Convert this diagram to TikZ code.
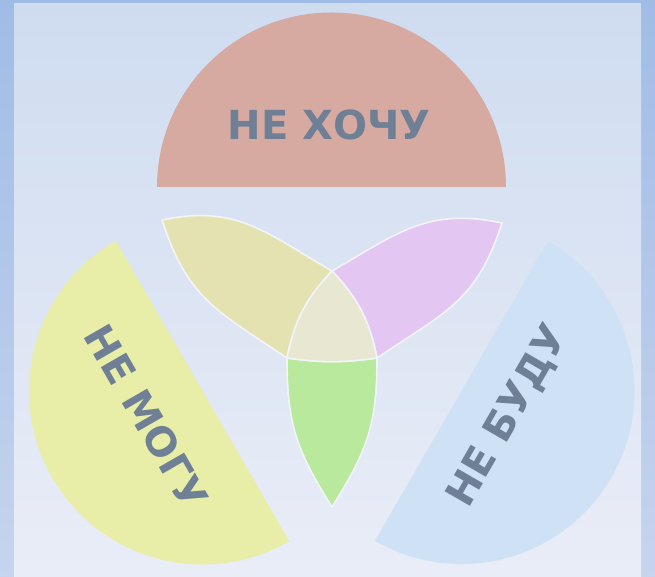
\documentclass[tikz,border=0pt]{standalone}
\usepackage{fontspec}
\newfontfamily\lblfont{DejaVu Sans}
\definecolor{frameTop}{HTML}{A0BCE6}
\definecolor{frameBot}{HTML}{C6D4EE}
\definecolor{panelTop}{HTML}{CFDCF0}
\definecolor{panelBot}{HTML}{E9EDF7}
\definecolor{salmon}{HTML}{D6A9A1}
\definecolor{leftY}{HTML}{E8EDA8}
\definecolor{rightB}{HTML}{CEE1F5}
\definecolor{lensY}{HTML}{E5E2B2}
\definecolor{lensP}{HTML}{E3C7F2}
\definecolor{lensG}{HTML}{B9E99D}
\definecolor{centerC}{HTML}{E7E7D2}
\definecolor{txtc}{HTML}{6F7F95}
\definecolor{sepc}{HTML}{F2F4F8}
\begin{document}
\begin{tikzpicture}[x=1pt,y=1pt,
  lbl/.style={font=\lblfont\bfseries\fontsize{40}{48}\selectfont, text=txtc, inner sep=0pt, text depth=0pt},
  petal/.style={draw=sepc, line width=1.6pt, line join=round}]
\useasboundingbox (0,0) rectangle (655,577);
% background frame and panel
\fill[top color=frameTop, bottom color=frameBot] (0,0) rectangle (655,577);
\fill[top color=panelTop, bottom color=panelBot] (14,0) rectangle (641,573);
% three half disks
\fill[salmon] (157,390) arc[start angle=180,end angle=0,radius=174.5] -- cycle;
\fill[leftY] (202.5,186) ++(120:173.5) arc[start angle=120,end angle=300,radius=173.5] -- cycle;
\fill[rightB] (461.5,186) ++(60:173) arc[start angle=60,end angle=-120,radius=173] -- cycle;
% labels
\node[lbl] (want) at (329,452.5) {НЕ ХОЧУ};
\node[lbl, rotate=-60] (can) at (147,160) {НЕ МОГУ};
\node[lbl, rotate=60] (will) at (506,162) {НЕ БУДУ};
% trefoil
\coordinate (T) at (332,306);
\coordinate (L) at (287,219);
\coordinate (R) at (377,219);
\coordinate (Ay) at (162,357);
\coordinate (Ap) at (502,354);
\coordinate (Ag) at (332,70);
\fill[lensY, petal] (Ay) to[out=12,in=150,looseness=1.1] (T) to[bend right=16] (L) to[out=146,in=-72,looseness=1.15] (Ay) -- cycle;
\fill[lensP, petal] (Ap) to[out=168,in=30,looseness=1.1] (T) to[bend left=16] (R) to[out=34,in=252,looseness=1.15] (Ap) -- cycle;
\fill[lensG, petal] (L) to[out=-90,in=122,looseness=1.1] (Ag) to[out=58,in=-90,looseness=1.1] (R) to[bend left=8] (L) -- cycle;
\fill[centerC, petal] (L) to[bend left=16] (T) to[bend left=16] (R) to[bend left=8] (L) -- cycle;
\end{tikzpicture}
\end{document}
